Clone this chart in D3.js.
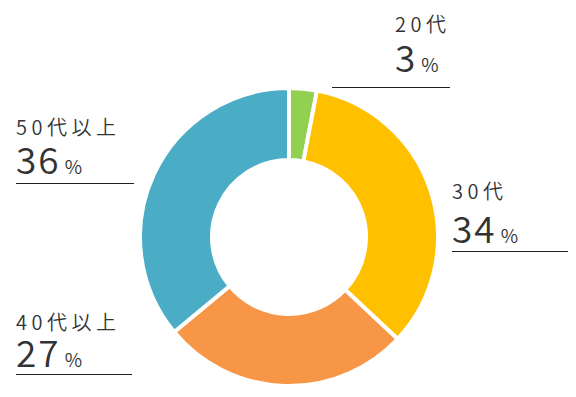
<!DOCTYPE html>
<html>
<head>
<meta charset="utf-8">
<script src="https://cdn.jsdelivr.net/npm/d3@7"></script>
<style>
  body { margin: 0; background: #fff; }
  svg text { font-family: "Noto Sans CJK JP", "Noto Sans", sans-serif; fill: #333; font-weight: 350; }
</style>
</head>
<body>
<script>
// data
const categories = ["20代", "30代", "40代以上", "50代以上"];
const values = [3, 34, 27, 36];
const colors = ["#92d050", "#ffc000", "#f79646", "#4bacc6"];

// label layout (x, baseline of name, baseline of value, line y, line x1..x2)
const labelPos = [
  {x: 395, y1: 32, y2: 72, ly: 87, lx1: 332, lx2: 450},
  {x: 452, y1: 199, y2: 243, ly: 251, lx1: 452, lx2: 568},
  {x: 16, y1: 330, y2: 367, ly: 374, lx1: 16, lx2: 132},
  {x: 16, y1: 135, y2: 174, ly: 183, lx1: 16, lx2: 134}
];

const width = 576, height = 397;
const cx = 289, cy = 237;
const outerR = 149, innerR = 77;

const svg = d3.select('body').append('svg')
  .attr('width', width)
  .attr('height', height);

const g = svg.append('g')
  .attr('transform', `translate(${cx},${cy})`);

const pie = d3.pie().sort(null).value(d => d);
const arc = d3.arc().innerRadius(innerR).outerRadius(outerR);

g.selectAll('path').data(pie(values)).join('path')
  .attr('d', arc)
  .attr('fill', (d, i) => colors[i])
  .attr('stroke', '#fff')
  .attr('stroke-width', 4)
  .attr('stroke-linejoin', 'miter');

// labels
const lab = svg.selectAll('g.lab').data(categories).join('g').attr('class', 'lab');

lab.append('text')
  .attr('x', (d, i) => labelPos[i].x)
  .attr('y', (d, i) => labelPos[i].y1)
  .style('font-size', '20px')
  .style('letter-spacing', '4.5px')
  .text(d => d);

const val = lab.append('text')
  .attr('x', (d, i) => labelPos[i].x)
  .attr('y', (d, i) => labelPos[i].y2);
val.append('tspan')
  .style('font-size', '37px')
  .style('letter-spacing', '2px')
  .text((d, i) => values[i]);
val.append('tspan')
  .style('font-size', '19px')
  .attr('dx', 4)
  .text('%');

lab.append('line')
  .attr('x1', (d, i) => labelPos[i].lx1)
  .attr('x2', (d, i) => labelPos[i].lx2)
  .attr('y1', (d, i) => labelPos[i].ly + 0.5)
  .attr('y2', (d, i) => labelPos[i].ly + 0.5)
  .attr('stroke', '#222')
  .attr('stroke-width', 1);
</script>
</body>
</html>
